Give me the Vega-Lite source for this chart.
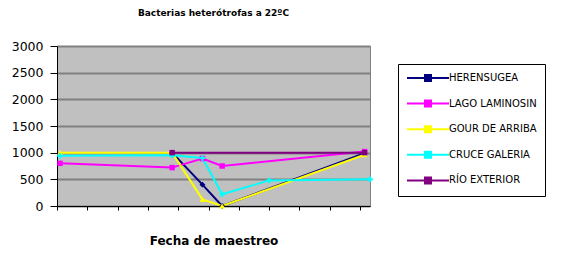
{
  "$schema": "https://vega.github.io/schema/vega-lite/v6.json",
  "width": 313,
  "height": 160,
  "autosize": {"type": "none"},
  "padding": {"left": 57, "top": 46, "right": 198, "bottom": 49},
  "background": "white",
  "title": {"text": "Bacterias heterótrofas a 22ºC", "fontSize": 9, "font": "DejaVu Sans", "fontWeight": "bold", "anchor": "middle", "offset": 22, "color": "black"},
  "config": {"view": {"fill": "#C0C0C0", "stroke": "#808080"}},
  "data": {"values": [
    {"serie": "HERENSUGEA", "t": 3.8, "v": 1000},
    {"serie": "HERENSUGEA", "t": 4.8, "v": 400},
    {"serie": "HERENSUGEA", "t": 5.45, "v": 0},
    {"serie": "HERENSUGEA", "t": 10.15, "v": 990},
    {"serie": "LAGO LAMINOSIN", "t": 0.1, "v": 800},
    {"serie": "LAGO LAMINOSIN", "t": 3.8, "v": 720},
    {"serie": "LAGO LAMINOSIN", "t": 4.8, "v": 890},
    {"serie": "LAGO LAMINOSIN", "t": 5.45, "v": 750},
    {"serie": "LAGO LAMINOSIN", "t": 10.15, "v": 1020},
    {"serie": "GOUR DE ARRIBA", "t": 0.1, "v": 1000},
    {"serie": "GOUR DE ARRIBA", "t": 3.8, "v": 1000},
    {"serie": "GOUR DE ARRIBA", "t": 4.8, "v": 125},
    {"serie": "GOUR DE ARRIBA", "t": 5.45, "v": 0},
    {"serie": "GOUR DE ARRIBA", "t": 10.15, "v": 960},
    {"serie": "CRUCE GALERIA", "t": 0.1, "v": 940},
    {"serie": "CRUCE GALERIA", "t": 3.8, "v": 950},
    {"serie": "CRUCE GALERIA", "t": 4.8, "v": 900},
    {"serie": "CRUCE GALERIA", "t": 5.45, "v": 220},
    {"serie": "CRUCE GALERIA", "t": 7.0, "v": 480},
    {"serie": "CRUCE GALERIA", "t": 10.33, "v": 500},
    {"serie": "RÍO EXTERIOR", "t": 3.8, "v": 1000},
    {"serie": "RÍO EXTERIOR", "t": 10.15, "v": 1000}
  ]},
  "encoding": {
    "x": {"field": "t", "type": "quantitative", "scale": {"domain": [0, 10.33], "nice": false, "zero": false},
      "axis": {"values": [0, 1, 2, 3, 4, 5, 6, 7, 8, 9, 10], "labels": false, "grid": false, "tickSize": 4, "tickColor": "black", "domainColor": "black",
        "title": "Fecha de maestreo", "titleFontSize": 12, "titleFont": "DejaVu Sans", "titleFontWeight": "bold", "titleColor": "black", "titlePadding": 25}},
    "y": {"field": "v", "type": "quantitative", "scale": {"domain": [0, 3000], "nice": false},
      "axis": {"values": [0, 500, 1000, 1500, 2000, 2500, 3000], "format": "d", "title": null, "labelFontSize": 12.5, "labelFont": "DejaVu Sans", "labelColor": "black",
        "tickSize": 7, "tickColor": "black", "domainColor": "black", "gridColor": "#808080", "gridWidth": 2, "labelPadding": 7}},
    "color": {"field": "serie", "type": "nominal",
      "scale": {"domain": ["HERENSUGEA", "LAGO LAMINOSIN", "GOUR DE ARRIBA", "CRUCE GALERIA", "RÍO EXTERIOR"], "range": ["#000080", "#FF00FF", "#FFFF00", "#00FFFF", "#800080"]},
      "legend": {"orient": "none", "legendX": 341, "legendY": 18, "title": null, "fillColor": "white", "strokeColor": "black", "padding": 8,
        "symbolType": "M-4.2,0H4.2M-0.6,-0.6H0.6V0.6H-0.6Z", "symbolSize": 100, "symbolStrokeWidth": 2, "symbolOffset": 16, "rowPadding": 11.6,
        "labelFont": "DejaVu Sans", "labelFontSize": 10, "labelColor": "black", "labelOffset": 15,
        "encode": {"symbols": {"update": {"stroke": {"scale": "color", "field": "value"}, "fill": {"scale": "color", "field": "value"}, "opacity": {"value": 1}, "strokeWidth": {"value": 2}}}}}}
  },
  "layer": [
    {"mark": {"type": "line", "strokeWidth": 2}},
    {"transform": [{"filter": {"field": "serie", "equal": "HERENSUGEA"}}], "mark": {"type": "point", "shape": "diamond", "filled": true, "size": 35, "opacity": 1}},
    {"transform": [{"filter": {"field": "serie", "equal": "LAGO LAMINOSIN"}}], "mark": {"type": "point", "shape": "square", "filled": true, "size": 30, "opacity": 1}},
    {"transform": [{"filter": {"field": "serie", "equal": "GOUR DE ARRIBA"}}], "mark": {"type": "point", "shape": "triangle-up", "filled": true, "size": 35, "opacity": 1}},
    {"transform": [{"filter": {"field": "serie", "equal": "CRUCE GALERIA"}}], "mark": {"type": "point", "shape": "cross", "filled": true, "size": 30, "opacity": 1}},
    {"transform": [{"filter": {"field": "serie", "equal": "RÍO EXTERIOR"}}], "mark": {"type": "point", "shape": "square", "filled": true, "size": 30, "opacity": 1}}
  ]
}
